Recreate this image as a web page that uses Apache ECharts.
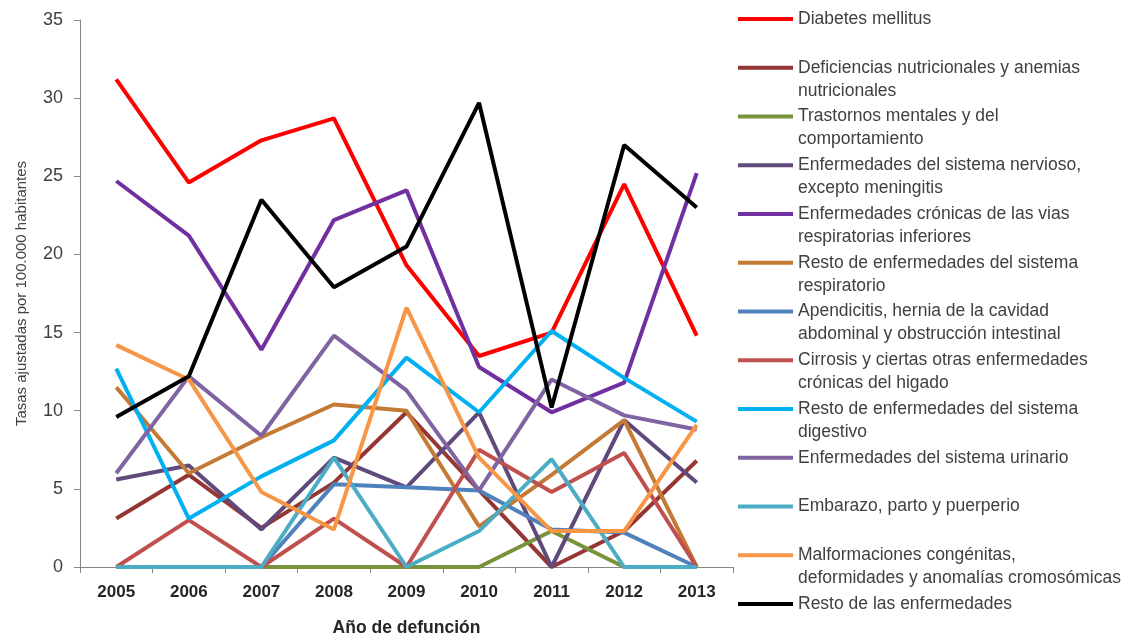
<!DOCTYPE html>
<html><head><meta charset="utf-8">
<script src="https://cdn.jsdelivr.net/npm/echarts@6/dist/echarts.min.js"></script>
<style>html,body{margin:0;padding:0;background:#fff}#c{width:1124px;height:637px}</style>
</head><body><div id="c"></div>
<script>
var years = ['2005','2006','2007','2008','2009','2010','2011','2012','2013'];
var yTicks = [0,5,10,15,20,25,30,35];
var names = [
 'Diabetes mellitus',
 'Deficiencias nutricionales y anemias nutricionales',
 'Trastornos mentales y del comportamiento',
 'Enfermedades del sistema nervioso, excepto meningitis',
 'Enfermedades crónicas de las vias respiratorias inferiores',
 'Resto de enfermedades del sistema respiratorio',
 'Apendicitis, hernia de la cavidad abdominal y obstrucción intestinal',
 'Cirrosis y ciertas otras enfermedades crónicas del higado',
 'Resto de enfermedades del sistema digestivo',
 'Enfermedades del sistema urinario',
 'Embarazo, parto y puerperio',
 'Malformaciones congénitas, deformidades y anomalías cromosómicas',
 'Resto de las enfermedades'
];
var legendLabels = [
 'Diabetes mellitus',
 'Deficiencias nutricionales y anemias\nnutricionales',
 'Trastornos mentales y del\ncomportamiento',
 'Enfermedades del sistema nervioso,\nexcepto meningitis',
 'Enfermedades crónicas de las vias\nrespiratorias inferiores',
 'Resto de enfermedades del sistema\nrespiratorio',
 'Apendicitis, hernia de la cavidad\nabdominal y obstrucción intestinal',
 'Cirrosis y ciertas otras enfermedades\ncrónicas del higado',
 'Resto de enfermedades del sistema\ndigestivo',
 'Enfermedades del sistema urinario',
 'Embarazo, parto y puerperio',
 'Malformaciones congénitas,\ndeformidades y anomalías cromosómicas',
 'Resto de las enfermedades'
];
var diabetes      = [31.2, 24.6, 27.3, 28.7, 19.3, 13.5, 15.0, 24.5, 14.8];
var deficiencias  = [3.1, 5.9, 2.5, 5.4, 9.9, 4.9, 0, 2.3, 6.8];
var trastornos    = [0, 0, 0, 0, 0, 0, 2.3, 0, 0];
var nervioso      = [5.6, 6.5, 2.4, 7.0, 5.1, 9.9, 0, 9.4, 5.4];
var cronicasResp  = [24.7, 21.2, 13.9, 22.2, 24.1, 12.8, 9.9, 11.8, 25.2];
var restoResp     = [11.5, 6.0, 8.3, 10.4, 10.0, 2.6, 5.9, 9.4, 0];
var apendicitis   = [0, 0, 0, 5.3, 5.1, 4.9, 2.4, 2.2, 0];
var cirrosis      = [0, 3.0, 0, 3.1, 0, 7.5, 4.8, 7.3, 0];
var restoDigest   = [12.7, 3.1, 5.8, 8.1, 13.4, 9.9, 15.1, 12.1, 9.3];
var urinario      = [6.0, 12.2, 8.4, 14.8, 11.3, 4.9, 12.0, 9.7, 8.8];
var embarazo      = [0, 0, 0, 7.0, 0, 2.3, 6.9, 0, 0];
var malformaciones= [14.2, 12.0, 4.8, 2.4, 16.6, 7.0, 2.3, 2.3, 9.1];
var restoEnf      = [9.6, 12.2, 23.5, 17.9, 20.5, 29.7, 10.2, 27.0, 23.0];

var allData = [diabetes, deficiencias, trastornos, nervioso, cronicasResp, restoResp,
  apendicitis, cirrosis, restoDigest, urinario, embarazo, malformaciones, restoEnf];
var colors = ['#FF0000','#943634','#77933C','#604A7B','#7030A0','#C47A35','#4F81BD',
  '#C0504D','#00B0F0','#8064A2','#4BACC6','#F79646','#000000'];

var LH = 23;
var series = names.map(function(n,i){
  return {name:n, type:'line', data:allData[i], symbol:'none', smooth:false,
    lineStyle:{width:4, color:colors[i]}, itemStyle:{color:colors[i]}, z: 2+i};
});
var legends = names.map(function(n,i){
  var two = legendLabels[i].indexOf('\n') >= 0;
  var yc = 19 + i*48.75;
  var label = two ? ('\n' + legendLabels[i]) : legendLabels[i];
  var textH = two ? 3*LH : LH;
  return {
    data:[n], orient:'vertical', left:738, top: yc - textH/2,
    icon:'rect', itemWidth:55, itemHeight:4, itemGap:0, padding:0, selectedMode:false,
    formatter:function(){return label;},
    textStyle:{fontFamily:'Liberation Sans', fontSize:17.5, color:'#404040', lineHeight:LH}
  };
});

var chart = echarts.init(document.getElementById('c'), null, {renderer:'canvas'});
chart.setOption({
  animation:false,
  backgroundColor:'#ffffff',
  color: colors,
  legend: legends,
  grid:{left:80, right:391, top:20, bottom:70, containLabel:false, outerBoundsMode:'none'},
  xAxis:{type:'category', data:years, boundaryGap:true,
    name:'Año de defunción', nameLocation:'middle', nameGap:52,
    nameTextStyle:{fontFamily:'Liberation Sans', fontSize:17.5, fontWeight:'bold', color:'#262626'},
    axisLine:{lineStyle:{color:'#868686', width:1}},
    axisTick:{show:true, alignWithLabel:false, length:6, lineStyle:{color:'#868686'}},
    axisLabel:{fontFamily:'Liberation Sans', fontSize:17, fontWeight:'bold', color:'#262626', margin:17},
    splitLine:{show:false}},
  yAxis:{type:'value', min:yTicks[0], max:yTicks[yTicks.length-1], interval:5,
    name:'Tasas ajustadas por 100.000 habitantes', nameLocation:'middle', nameGap:51, nameRotate:90,
    nameTextStyle:{fontFamily:'Liberation Sans', fontSize:15, color:'#404040'},
    axisLine:{show:true, lineStyle:{color:'#868686', width:1}},
    axisTick:{show:true, inside:false, length:6, lineStyle:{color:'#868686'}},
    axisLabel:{fontFamily:'Liberation Sans', fontSize:18, color:'#404040', margin:17},
    splitLine:{show:false}},
  series: series
});
</script></body></html>
